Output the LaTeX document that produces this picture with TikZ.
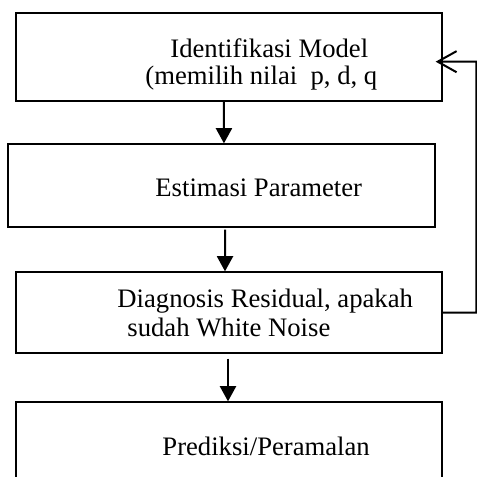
\documentclass[tikz,border=0pt]{standalone}
\usepackage{fontspec}
\setmainfont{Liberation Serif}
\usetikzlibrary{arrows.meta,positioning}
\tikzset{
  box/.style  ={draw=black,line width=0.6pt,inner sep=0pt},
  txt/.style  ={anchor=base west,inner sep=0pt,font=\fontsize{12}{14}\selectfont},
  fl/.style   ={-{Triangle[length=6.8pt,width=7.2pt]},draw=black,line width=0.9pt},
  back/.style ={-{Straight Barb[length=8.5pt,width=9.5pt]},draw=black,line width=0.9pt},
}

\begin{document}
\begin{tikzpicture}[
  x=0.45pt, y=-0.45pt,
]

\clip (0,0) rectangle (477,477);
\fill[white] (0,0) rectangle (477,477);

%% ---------------- boxes ----------------
\node[box,minimum width=191.7pt,minimum height=39.6pt]  (ident) at (229,57)    {};
\node[box,minimum width=192.2pt,minimum height=37.35pt] (estim) at (221.5,185.5) {};
\node[box,minimum width=191.7pt,minimum height=36.45pt] (diag)  at (229,312.5) {};
\node[box,minimum width=191.7pt,minimum height=53.1pt]  (pred)  at (229,461)   {};

%% ---------------- texts ----------------
\node[txt] (identa) at (170,57)    {Identifikasi Model};
\node[txt] (identb) at (145,84)    {(memilih nilai\ \ p, d, q};
\node[txt] (estima) at (155,196)   {Estimasi Parameter};
\node[txt] (diaga)  at (117,307.5) {Diagnosis Residual, apakah};
\node[txt] (diagb)  at (127,336.7) {sudah White Noise};
\node[txt] (preda)  at (162,455)   {Prediksi/Peramalan};

%% ---------------- arrows ----------------
\draw[fl] ([xshift=-2.25pt]ident.south) -- ([xshift=1.1pt]estim.north);
\draw[fl] ([xshift=1.6pt,yshift=-0.9pt]estim.south) -- ([xshift=-1.8pt]diag.north);
\draw[fl] ([xshift=-0.45pt,yshift=-2.25pt]diag.south) -- ([xshift=-0.45pt]pred.north);

%% feedback: back to the identification step
\coordinate (rt) at (476.5,61.7);
\draw[back] (diag.east) -| (rt) -- ([xshift=-3.15pt,yshift=-2.1pt]ident.east);

\end{tikzpicture}
\end{document}
